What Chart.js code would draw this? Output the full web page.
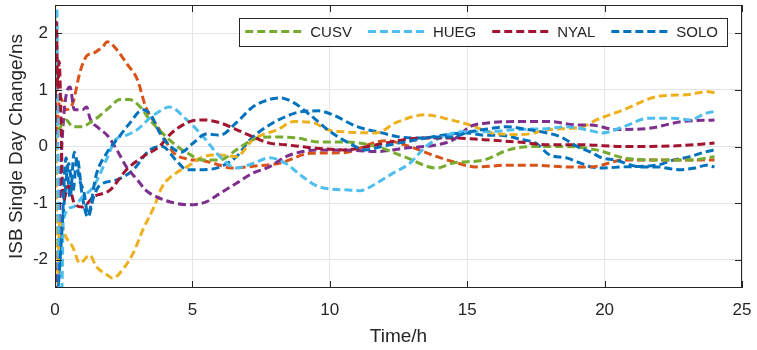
<!DOCTYPE html>
<html>
<head>
<meta charset="utf-8">
<script src="https://cdn.jsdelivr.net/npm/chart.js@4/dist/chart.umd.min.js"></script>
<style>
  html, body { margin: 0; padding: 0; background: #fff; }
  #wrap { width: 757px; height: 350px; }
</style>
</head>
<body>
<div id="wrap"><canvas id="myChart" width="757" height="350"></canvas></div>
<script>
// tick labels
const xTicks = [0, 5, 10, 15, 20, 25];
const yTicks = [-2, -1, 0, 1, 2];

// unlabeled series (first four lines of the plot)
const blueX = [0, 0.08, 0.2, 0.35, 0.5, 0.65, 0.8, 1.0, 1.2, 1.4, 1.6, 2.25, 2.85, 3.45, 3.9, 4.4, 4.8, 5.4, 6, 6.6, 7.1, 7.8, 8.4, 9, 9.6, 10.1, 11, 11.9, 12.5, 13.4, 14.1, 15, 15.6, 16.2, 17, 17.5, 18, 18.6, 19, 19.5, 19.8, 20.7, 21.9, 22.5, 23.1, 23.7, 24];
const blueY = [2.4, -2.6, -1.8, -0.9, -0.3, -0.8, -0.2, -0.9, -1.25, -0.9, -0.7, -0.59, -0.41, -0.06, 0, -0.24, -0.41, -0.41, -0.36, -0.18, 0.12, 0.38, 0.53, 0.62, 0.63, 0.56, 0.35, 0.24, 0.17, 0.15, 0.2, 0.24, 0.2, 0.2, 0.12, 0.06, -0.15, -0.2, -0.27, -0.36, -0.38, -0.36, -0.33, -0.24, -0.18, -0.09, -0.06];

const orangeX = [0, 0.1, 0.18, 0.4, 0.65, 0.9, 1.15, 1.4, 1.75, 1.9, 2.25, 2.6, 3, 3.3, 3.8, 4.3, 4.8, 5.4, 6, 6.4, 7.2, 8.2, 9.3, 10.5, 11.7, 12.1, 12.9, 13.9, 14.5, 15.3, 16.5, 17.4, 18.6, 19.5, 20.7, 22.5, 24];
const orangeY = [0, 0.5, 0.88, 0.65, 0.77, 1.3, 1.6, 1.65, 1.77, 1.85, 1.71, 1.47, 1.18, 0.7, 0.3, -0.1, -0.22, -0.25, -0.33, -0.38, -0.35, -0.29, -0.12, -0.11, 0.08, 0.1, 0, -0.18, -0.27, -0.36, -0.33, -0.33, -0.36, -0.36, -0.24, -0.24, -0.24];

const yellowX = [0, 0.08, 0.18, 0.4, 0.65, 0.9, 1.27, 1.5, 1.9, 2.1, 2.5, 2.85, 3.2, 3.6, 3.9, 4.4, 4.8, 5.4, 6, 6.6, 7.2, 8.1, 8.7, 9.4, 9.9, 10.5, 11.7, 12.4, 13.5, 14.4, 15.1, 15.9, 17, 18, 19.2, 19.7, 20.7, 21.9, 23.1, 23.7, 24];
const yellowY = [2.6, -2.4, -1.3, -1.6, -1.78, -2.06, -1.92, -2.12, -2.27, -2.33, -2.15, -1.88, -1.47, -1.07, -0.71, -0.47, -0.36, -0.18, -0.15, -0.18, 0.12, 0.3, 0.44, 0.42, 0.3, 0.26, 0.24, 0.42, 0.56, 0.47, 0.38, 0.24, 0.21, 0.3, 0.35, 0.47, 0.65, 0.88, 0.92, 0.97, 0.95];

const purpleX = [0, 0.08, 0.2, 0.35, 0.55, 0.7, 1.0, 1.15, 1.27, 1.6, 1.9, 2.25, 2.6, 3, 3.3, 3.7, 4.2, 4.9, 5.5, 6, 6.6, 7.2, 7.8, 8.4, 9, 9.6, 10.5, 11.7, 12.7, 13.9, 14.5, 15.1, 15.8, 16.8, 18, 19, 19.5, 20.4, 21.6, 22.8, 24];
const purpleY = [-2.6, -2.4, -0.5, 0.7, 1.05, 0.65, 0.65, 0.7, 0.5, 0.32, 0.2, -0.06, -0.36, -0.59, -0.77, -0.89, -0.98, -1.03, -0.98, -0.83, -0.65, -0.47, -0.36, -0.18, -0.09, -0.06, -0.06, -0.09, -0.03, 0.03, 0.12, 0.35, 0.42, 0.44, 0.44, 0.38, 0.38, 0.3, 0.32, 0.44, 0.47];

// legend stations
const cusvX = [0, 0.1, 0.4, 0.65, 1.0, 1.27, 1.6, 2, 2.36, 2.7, 3.1, 3.45, 3.9, 4.4, 4.8, 5.4, 6, 6.6, 7.2, 7.8, 8.8, 9.6, 10.5, 11.7, 12.7, 13.9, 14.5, 15.6, 16.5, 17.4, 18.6, 19.7, 20.7, 21.9, 23.1, 24];
const cusvY = [0.5, 0.3, 0.47, 0.35, 0.35, 0.42, 0.53, 0.7, 0.83, 0.83, 0.7, 0.47, 0.24, 0.02, -0.11, -0.24, -0.24, -0.06, 0.12, 0.17, 0.15, 0.08, 0.08, 0, -0.18, -0.38, -0.29, -0.24, -0.06, 0, 0, -0.06, -0.2, -0.24, -0.24, -0.18];

const huegX = [0, 0.06, 0.15, 0.25, 0.3, 0.65, 1, 1.4, 1.9, 2.2, 2.6, 3, 3.45, 3.9, 4.15, 4.8, 5.4, 6, 6.6, 7.2, 7.8, 8.4, 9, 9.6, 10.7, 11.1, 11.7, 12.3, 12.9, 13.5, 14.1, 14.8, 15.6, 16.8, 18, 18.6, 19.5, 19.9, 20.7, 21.6, 22.5, 23.1, 23.7, 24];
const huegY = [2.6, 2.6, -2.6, -2.5, -1.3, -1.07, -0.89, -0.71, -0.2, 0.12, 0.2, 0.3, 0.5, 0.65, 0.7, 0.47, 0.17, -0.18, -0.38, -0.3, -0.2, -0.3, -0.53, -0.71, -0.77, -0.78, -0.65, -0.47, -0.3, 0, 0.17, 0.26, 0.26, 0.3, 0.32, 0.35, 0.28, 0.24, 0.35, 0.5, 0.5, 0.47, 0.59, 0.62];

const nyalX = [0, 0.05, 0.1, 0.15, 0.3, 0.5, 0.7, 1.0, 1.4, 2, 2.6, 3.2, 3.8, 4.2, 4.9, 5.4, 6, 6.6, 7.2, 7.8, 8.4, 9.3, 10.5, 11.7, 12.7, 13.5, 14.5, 15.6, 16.8, 18, 19.2, 20.7, 22.5, 24];
const nyalY = [0, 2.2, 1.0, 1.5, -0.95, -0.7, -1.0, -1.07, -0.89, -0.77, -0.41, -0.18, 0, 0.22, 0.44, 0.47, 0.42, 0.3, 0.17, 0.06, 0.03, -0.02, -0.06, 0.03, 0.12, 0.15, 0.15, 0.12, 0.08, 0.03, 0.03, 0, 0.01, 0.06];

const soloX = [0, 0.1, 0.25, 0.4, 0.55, 0.7, 0.9, 1.05, 1.2, 1.5, 1.9, 2.3, 2.7, 3.2, 3.5, 3.8, 4.2, 4.6, 5, 5.5, 6, 6.6, 7.2, 7.8, 8.2, 8.7, 9.3, 10, 10.7, 11.3, 11.9, 12.5, 13.2, 13.8, 14.4, 15.1, 15.9, 16.4, 17.2, 17.7, 18.4, 19, 19.5, 19.9, 20.4, 21.3, 21.9, 22.7, 23.3, 23.7, 24];
const soloY = [-2.6, -2.5, -1.5, -0.2, -0.9, -0.1, -0.6, -0.8, -1.2, -0.5, -0.1, 0.15, 0.4, 0.65, 0.55, 0.25, 0, -0.1, 0.05, 0.22, 0.2, 0.42, 0.7, 0.83, 0.86, 0.77, 0.55, 0.27, 0.06, -0.06, 0, 0.06, 0.12, 0.17, 0.17, 0.26, 0.32, 0.35, 0.3, 0.26, 0.17, 0, -0.1, -0.2, -0.24, -0.36, -0.36, -0.41, -0.38, -0.33, -0.36];

const axisColor = '#262626';
const fontFamily = "'Liberation Sans', Arial, Helvetica, sans-serif";

function pts(xs, ys) {
    return xs.map((x, i) => ({ x: x, y: ys[i] }));
}

function line(label, xs, ys, color, inLegend, idx) {
    return {
        label: label,
        data: pts(xs, ys),
        borderColor: color,
        backgroundColor: color,
        borderWidth: 3,
        borderDash: [8, 4],
        pointRadius: 0,
        fill: false,
        cubicInterpolationMode: 'monotone',
        inLegend: inLegend,
        order: -idx
    };
}

const datasets = [
    line('s1', blueX, blueY, '#0072BD', false, 0),
    line('s2', orangeX, orangeY, '#D95319', false, 1),
    line('s3', yellowX, yellowY, '#EDB120', false, 2),
    line('s4', purpleX, purpleY, '#7E2F8E', false, 3),
    line('CUSV', cusvX, cusvY, '#77AC30', true, 4),
    line('HUEG', huegX, huegY, '#4DBEEE', true, 5),
    line('NYAL', nyalX, nyalY, '#A2142F', true, 6),
    line('SOLO', soloX, soloY, '#0072BD', true, 7)
];

// box around the axes with inward tick marks, like matlab
const boxPlugin = {
    id: 'box',
    afterDatasetsDraw(chart) {
        const { ctx, chartArea: a, scales } = chart;
        ctx.save();
        ctx.strokeStyle = axisColor;
        ctx.lineWidth = 1;
        ctx.setLineDash([]);
        ctx.strokeRect(a.left + 0.5, a.top + 0.5, a.right - a.left - 1, a.bottom - a.top - 1);
        const len = 7;
        ctx.beginPath();
        xTicks.forEach(v => {
            const px = Math.round(scales.x.getPixelForValue(v)) + 0.5;
            ctx.moveTo(px, a.bottom); ctx.lineTo(px, a.bottom - len);
            ctx.moveTo(px, a.top); ctx.lineTo(px, a.top + len);
        });
        yTicks.forEach(v => {
            const py = Math.round(scales.y.getPixelForValue(v)) + 0.5;
            ctx.moveTo(a.left, py); ctx.lineTo(a.left + len, py);
            ctx.moveTo(a.right, py); ctx.lineTo(a.right - len, py);
        });
        ctx.stroke();
        ctx.restore();
    }
};

// legend inside the axes, top right
const legendPlugin = {
    id: 'insideLegend',
    afterDraw(chart) {
        const { ctx, chartArea: a } = chart;
        const items = chart.data.datasets.filter(d => d.inLegend);
        ctx.save();
        ctx.font = '15px ' + fontFamily;
        const lineLen = 60, gapText = 5, gapItem = 16, padL = 6, padR = 9;
        let w = padL + padR;
        items.forEach((d, i) => {
            w += lineLen + gapText + ctx.measureText(d.label).width + (i < items.length - 1 ? gapItem : 0);
        });
        const h = 28;
        const right = a.right - 15;
        const left = right - w;
        const top = a.top + 12.5;
        ctx.fillStyle = '#fff';
        ctx.fillRect(left, top, w, h);
        ctx.strokeStyle = axisColor;
        ctx.lineWidth = 1;
        ctx.strokeRect(Math.round(left) + 0.5, Math.round(top) + 0.5, Math.round(w), h);
        let x = left + padL;
        const cy = top + h / 2;
        items.forEach(d => {
            ctx.strokeStyle = d.borderColor;
            ctx.lineWidth = d.borderWidth;
            ctx.setLineDash(d.borderDash);
            ctx.beginPath();
            ctx.moveTo(x, cy); ctx.lineTo(x + lineLen, cy);
            ctx.stroke();
            ctx.setLineDash([]);
            x += lineLen + gapText;
            ctx.fillStyle = axisColor;
            ctx.textBaseline = 'middle';
            ctx.fillText(d.label, x, cy + 1);
            x += ctx.measureText(d.label).width + gapItem;
        });
        ctx.restore();
    }
};

new Chart(document.getElementById('myChart'), {
    type: 'line',
    data: { datasets: datasets },
    plugins: [boxPlugin, legendPlugin],
    options: {
        responsive: false,
        animation: false,
        layout: { padding: { top: 5, right: 15, left: 0, bottom: 0 } },
        plugins: { legend: { display: false }, tooltip: { enabled: false } },
        scales: {
            x: {
                type: 'linear',
                min: 0,
                max: 25,
                afterBuildTicks: s => { s.ticks = xTicks.map(v => ({ value: v })); },
                afterFit: s => { s.height = 62; s.paddingLeft = 0; s.paddingRight = 0; },
                grid: { color: '#e4e4e4', drawTicks: false },
                border: { display: false },
                ticks: { color: axisColor, font: { size: 17, family: fontFamily }, padding: 12, maxRotation: 0 },
                title: { display: true, text: 'Time/h', color: axisColor, font: { size: 19, family: fontFamily }, padding: { top: 0, bottom: 2 } }
            },
            y: {
                min: -2.5,
                max: 2.5,
                afterBuildTicks: s => { s.ticks = yTicks.map(v => ({ value: v })); },
                afterFit: s => { s.width = 55; s.paddingTop = 0; s.paddingBottom = 0; },
                grid: { color: '#e4e4e4', drawTicks: false },
                border: { display: false },
                ticks: { color: axisColor, font: { size: 17, family: fontFamily }, padding: 7 },
                title: { display: true, text: 'ISB Single Day Change/ns', color: axisColor, font: { size: 19, family: fontFamily }, padding: { top: 5, bottom: 0 } }
            }
        }
    }
});
</script>
</body>
</html>
